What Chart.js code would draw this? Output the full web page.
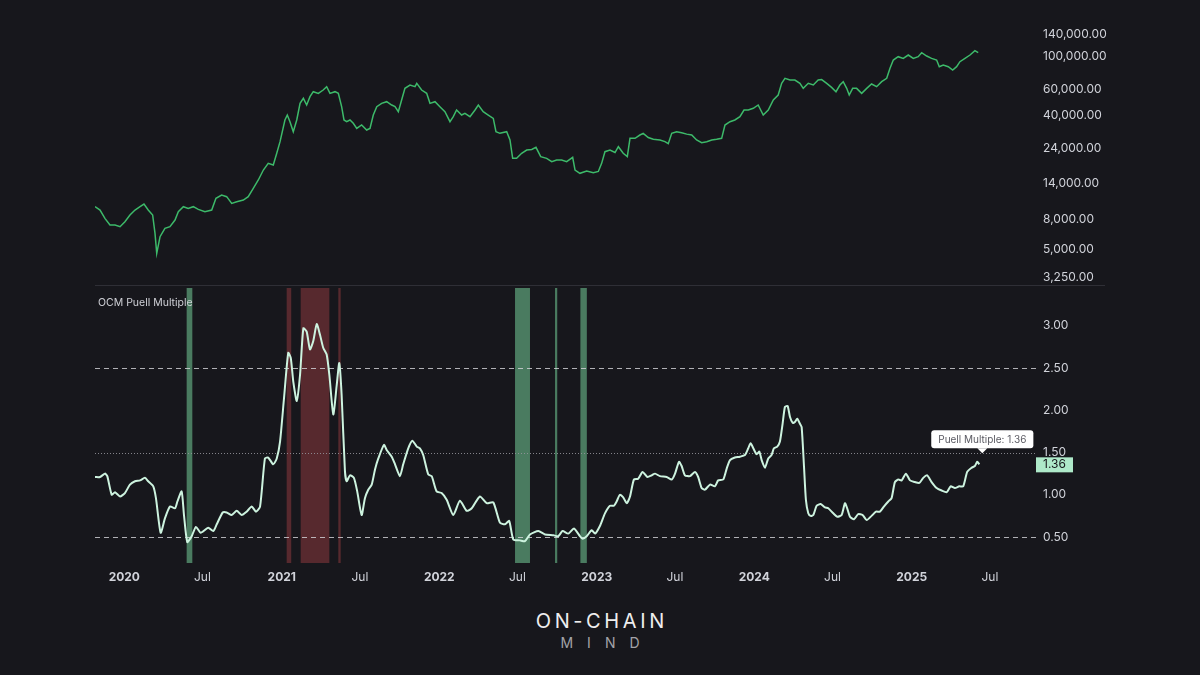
<!DOCTYPE html>
<html>
<head>
<meta charset="utf-8">
<script src="https://cdn.jsdelivr.net/npm/chart.js@4.4.1/dist/chart.umd.min.js"></script>
<style>
html,body{margin:0;padding:0;background:#17171c;}
#wrap{position:relative;width:1200px;height:675px;background:#17171c;overflow:hidden;font-family:Inter,"Noto Sans",sans-serif;}
#cPrice{position:absolute;left:0;top:0;}
#cPuell{position:absolute;left:0;top:287px;}
#lbl{position:absolute;left:98px;top:296px;font-size:10.5px;color:#cfd0d6;white-space:nowrap;}
#wm1{position:absolute;left:0;width:1200px;top:609px;text-align:center;font-size:20px;letter-spacing:3.6px;color:#eeeeee;padding-left:3.6px;box-sizing:border-box;}
#wm2{position:absolute;left:0;width:1200px;top:634px;text-align:center;font-size:14px;letter-spacing:14px;color:#a3a3a8;padding-left:14px;box-sizing:border-box;}
</style>
</head>
<body>
<div id="wrap">
  <canvas id="cPrice" width="1200" height="287"></canvas>
  <canvas id="cPuell" width="1200" height="300"></canvas>
  <div id="lbl">OCM Puell Multiple</div>
  <div id="wm1">ON-CHAIN</div>
  <div id="wm2">MIND</div>
</div>
<script>
// ---------- DATA ----------
const xMin = 2019.814, xMax = 2025.789;
const xTickValues = [2020, 2020.496, 2021, 2021.496, 2022, 2022.496, 2023, 2023.496, 2024, 2024.497, 2025, 2025.496];
const xTickLabels = ['2020','Jul','2021','Jul','2022','Jul','2023','Jul','2024','Jul','2025','Jul'];

const priceTicks = [3250, 5000, 8000, 14000, 24000, 40000, 60000, 100000, 140000];
const puellTicks = [0.5, 1.0, 1.5, 2.0, 2.5, 3.0];
const dashedLevels = [2.5, 0.5];
const dottedLevels = [1.5];

const greenBands = [[2020.396,2020.432],[2022.481,2022.576],[2022.735,2022.749],[2022.896,2022.937]];
const redBands = [[2021.031,2021.060],[2021.120,2021.302],[2021.359,2021.374]];

const priceT = [2019.814,2019.846,2019.877,2019.909,2019.941,2019.973,2020.004,2020.036,2020.068,2020.100,2020.125,2020.152,2020.180,2020.195,2020.206,2020.227,2020.258,2020.290,2020.322,2020.343,2020.375,2020.406,2020.438,2020.470,2020.512,2020.555,2020.582,2020.618,2020.650,2020.682,2020.714,2020.756,2020.787,2020.819,2020.851,2020.883,2020.914,2020.946,2020.968,2020.989,2021.020,2021.035,2021.052,2021.073,2021.095,2021.116,2021.137,2021.158,2021.179,2021.200,2021.232,2021.263,2021.285,2021.306,2021.338,2021.359,2021.380,2021.395,2021.412,2021.433,2021.454,2021.476,2021.507,2021.539,2021.560,2021.581,2021.603,2021.634,2021.666,2021.698,2021.719,2021.740,2021.761,2021.782,2021.814,2021.846,2021.857,2021.888,2021.920,2021.941,2021.973,2022.004,2022.036,2022.068,2022.089,2022.110,2022.142,2022.163,2022.195,2022.227,2022.248,2022.279,2022.311,2022.343,2022.360,2022.385,2022.428,2022.449,2022.466,2022.491,2022.523,2022.555,2022.587,2022.614,2022.644,2022.682,2022.714,2022.745,2022.777,2022.809,2022.847,2022.862,2022.893,2022.936,2022.978,2023.010,2023.031,2023.052,2023.084,2023.116,2023.137,2023.168,2023.194,2023.211,2023.243,2023.274,2023.295,2023.327,2023.359,2023.401,2023.433,2023.454,2023.476,2023.507,2023.539,2023.571,2023.603,2023.634,2023.666,2023.698,2023.730,2023.761,2023.793,2023.814,2023.846,2023.877,2023.909,2023.935,2023.962,2023.994,2024.025,2024.057,2024.089,2024.121,2024.152,2024.174,2024.195,2024.227,2024.258,2024.290,2024.311,2024.343,2024.375,2024.406,2024.428,2024.460,2024.491,2024.519,2024.544,2024.565,2024.587,2024.603,2024.625,2024.650,2024.682,2024.714,2024.745,2024.777,2024.809,2024.841,2024.862,2024.883,2024.914,2024.946,2024.978,2025.010,2025.041,2025.063,2025.095,2025.126,2025.158,2025.175,2025.200,2025.232,2025.260,2025.285,2025.306,2025.338,2025.370,2025.401,2025.422];
const priceV = [9745,9255,8138,7340,7340,7155,7727,8568,9255,9745,10155,9255,8568,6457,4738,6131,6972,7155,7932,9022,9745,9497,9745,9352,9022,9255,11090,11670,11376,10261,10530,10804,11376,12940,14720,17170,19040,18560,22230,26620,37200,40180,36250,31040,37200,48120,51990,46900,53350,57630,56150,59130,62250,56150,57630,56150,45710,37200,36250,37200,35330,32690,34430,31870,32690,40180,45710,48120,49370,46900,45710,42300,50660,60670,63880,62250,65550,59130,56150,48120,49370,45710,42300,36250,39150,43410,40180,41230,39150,43410,46900,42300,40180,38160,31040,30270,31040,27310,20570,20570,22230,23390,23600,24380,21100,20570,19540,20040,20040,19540,20880,17170,16320,16920,16500,16800,19040,22800,23390,22500,24630,22230,21100,28030,28030,29500,30270,28400,27600,27310,26620,25800,30270,31040,30500,29900,29500,27310,26200,26620,27310,27600,28030,34430,36250,37200,39150,43410,43410,44570,46900,40180,43410,50660,54730,65550,70810,69010,69010,65550,60670,65550,63880,69010,69500,65550,61610,57630,63880,67260,60670,54730,60670,60670,56150,60670,64880,62230,67260,70810,82640,94000,98970,96450,101550,96450,98970,105290,100000,96450,94000,84810,87000,84810,80540,84810,91620,96450,101550,108600,105290];

const puellT = [2019.814,2019.846,2019.877,2019.892,2019.920,2019.941,2019.973,2020.004,2020.036,2020.068,2020.100,2020.131,2020.152,2020.184,2020.201,2020.231,2020.258,2020.290,2020.322,2020.337,2020.364,2020.379,2020.400,2020.428,2020.455,2020.485,2020.533,2020.565,2020.587,2020.625,2020.650,2020.682,2020.714,2020.745,2020.777,2020.809,2020.836,2020.862,2020.893,2020.914,2020.946,2020.968,2020.989,2021.014,2021.041,2021.057,2021.073,2021.095,2021.116,2021.137,2021.158,2021.179,2021.200,2021.222,2021.243,2021.263,2021.285,2021.302,2021.327,2021.349,2021.365,2021.380,2021.401,2021.412,2021.433,2021.458,2021.479,2021.507,2021.528,2021.549,2021.571,2021.592,2021.613,2021.649,2021.666,2021.698,2021.719,2021.750,2021.771,2021.803,2021.829,2021.857,2021.877,2021.898,2021.930,2021.952,2021.983,2022.015,2022.047,2022.089,2022.131,2022.174,2022.206,2022.258,2022.301,2022.343,2022.385,2022.417,2022.444,2022.470,2022.512,2022.544,2022.576,2022.629,2022.671,2022.724,2022.756,2022.783,2022.819,2022.855,2022.893,2022.910,2022.936,2022.968,2022.989,2023.020,2023.052,2023.084,2023.109,2023.126,2023.147,2023.168,2023.190,2023.211,2023.236,2023.263,2023.291,2023.321,2023.349,2023.370,2023.401,2023.444,2023.476,2023.497,2023.522,2023.539,2023.560,2023.592,2023.624,2023.644,2023.666,2023.687,2023.719,2023.750,2023.771,2023.803,2023.825,2023.846,2023.877,2023.909,2023.941,2023.962,2023.977,2023.994,2024.015,2024.032,2024.047,2024.068,2024.089,2024.110,2024.125,2024.146,2024.163,2024.180,2024.195,2024.212,2024.227,2024.244,2024.258,2024.273,2024.290,2024.301,2024.316,2024.328,2024.343,2024.358,2024.375,2024.396,2024.422,2024.449,2024.470,2024.502,2024.527,2024.555,2024.576,2024.590,2024.608,2024.633,2024.660,2024.688,2024.714,2024.745,2024.773,2024.798,2024.823,2024.851,2024.872,2024.893,2024.914,2024.936,2024.963,2024.989,2025.020,2025.048,2025.073,2025.098,2025.126,2025.158,2025.190,2025.222,2025.247,2025.274,2025.302,2025.327,2025.352,2025.380,2025.401,2025.416,2025.429];
const puellV = [1.21,1.21,1.25,1.22,1.00,1.03,0.98,1.02,1.12,1.16,1.17,1.20,1.16,1.10,0.96,0.55,0.72,0.86,0.84,0.92,1.04,0.76,0.44,0.51,0.62,0.55,0.61,0.57,0.65,0.79,0.79,0.76,0.81,0.76,0.80,0.86,0.80,0.86,1.43,1.44,1.36,1.43,1.63,2.14,2.68,2.62,2.34,2.11,2.42,2.97,2.93,2.72,2.82,3.02,2.89,2.74,2.66,2.42,1.95,2.30,2.56,2.18,1.28,1.16,1.23,1.20,1.04,0.76,0.96,1.06,1.12,1.30,1.43,1.59,1.53,1.45,1.36,1.22,1.36,1.55,1.64,1.57,1.55,1.47,1.24,1.22,1.04,1.02,0.94,0.76,0.93,0.81,0.84,0.98,0.90,0.91,0.67,0.65,0.69,0.47,0.46,0.45,0.53,0.57,0.53,0.52,0.51,0.57,0.54,0.60,0.51,0.48,0.51,0.58,0.54,0.63,0.78,0.87,0.87,0.92,1.00,0.97,0.90,0.98,1.18,1.19,1.27,1.21,1.23,1.25,1.22,1.21,1.18,1.25,1.39,1.34,1.23,1.22,1.27,1.21,1.08,1.06,1.12,1.10,1.17,1.18,1.31,1.41,1.44,1.45,1.47,1.55,1.61,1.55,1.48,1.51,1.41,1.32,1.43,1.47,1.55,1.57,1.63,1.84,2.04,2.05,1.92,1.85,1.86,1.90,1.84,1.80,1.33,0.94,0.78,0.75,0.76,0.87,0.89,0.85,0.84,0.78,0.74,0.76,0.90,0.84,0.74,0.71,0.77,0.76,0.70,0.75,0.80,0.80,0.86,0.92,0.96,1.15,1.18,1.17,1.25,1.17,1.15,1.14,1.20,1.23,1.15,1.08,1.05,1.03,1.10,1.08,1.10,1.10,1.27,1.32,1.34,1.39,1.36];

// ---------- STYLE ----------
const TXT = '#d1d3da';
const FONT = 'Inter';
const PRICE_TOP = 237600, PRICE_BOTTOM = 2817;
const PUELL_TOP = 3.4586, PUELL_BOTTOM = 0.1923;

const fmtPrice = v => Number(v).toLocaleString('en-US',{minimumFractionDigits:2, maximumFractionDigits:2});
const fitY = s => { s.width = 164; s.paddingTop = 0; s.paddingBottom = 0; };
const fitX = s => { s.height = 24; s.paddingLeft = 0; s.paddingRight = 0; };

// ---------- PRICE CHART ----------
const sepPlugin = {
  id:'sep',
  afterDraw(chart){
    const c = chart.ctx;
    c.save();
    c.strokeStyle = '#2f2f36';
    c.lineWidth = 1;
    c.beginPath();
    c.moveTo(chart.chartArea.left, 285.5);
    c.lineTo(1105, 285.5);
    c.stroke();
    c.restore();
  }
};

new Chart(document.getElementById('cPrice'), {
  type:'line',
  data:{datasets:[{
    data: priceT.map((t,i)=>({x:t, y:priceV[i]})),
    borderColor:'#3dba6a',
    borderWidth:1.5,
    pointRadius:0,
    tension:0
  }]},
  options:{
    responsive:false, animation:false,
    layout:{padding:{left:95,right:0,top:0,bottom:0}},
    plugins:{legend:{display:false}, tooltip:{enabled:false}},
    scales:{
      x:{type:'linear', min:xMin, max:xMax, display:false},
      y:{
        type:'logarithmic', position:'right', min:PRICE_BOTTOM, max:PRICE_TOP,
        grid:{display:false, drawTicks:false}, border:{display:false},
        afterBuildTicks: s => { s.ticks = priceTicks.map(v=>({value:v})); },
        afterFit: fitY,
        ticks:{color:TXT, font:{family:FONT, size:12}, padding:7, callback: v => fmtPrice(v)}
      }
    }
  },
  plugins:[sepPlugin]
});

// ---------- PUELL CHART ----------
const decoPlugin = {
  id:'deco',
  beforeDatasetsDraw(chart){
    const c = chart.ctx, a = chart.chartArea, x = chart.scales.x, y = chart.scales.y;
    c.save();
    c.beginPath(); c.rect(a.left, a.top, a.right-a.left, a.bottom-a.top); c.clip();
    const band = (arr, col) => arr.forEach(b => {
      const x0 = x.getPixelForValue(b[0]), x1 = x.getPixelForValue(b[1]);
      c.fillStyle = col;
      c.fillRect(x0, a.top+1, Math.max(1.5, x1-x0), a.bottom-a.top-1);
    });
    band(greenBands, '#4a7b60');
    band(redBands, '#57292e');
    c.lineWidth = 1;
    c.strokeStyle = 'rgba(215,215,220,0.8)';
    c.setLineDash([5,4]);
    dashedLevels.forEach(v => {
      const py = Math.round(y.getPixelForValue(v)) + 0.5;
      c.beginPath(); c.moveTo(a.left, py); c.lineTo(a.right, py); c.stroke();
    });
    c.strokeStyle = 'rgba(150,150,158,0.85)';
    c.setLineDash([1,2]);
    dottedLevels.forEach(v => {
      const py = Math.round(y.getPixelForValue(v)) + 0.5;
      c.beginPath(); c.moveTo(a.left, py); c.lineTo(a.right, py); c.stroke();
    });
    c.restore();
  },
  afterDatasetsDraw(chart){
    const c = chart.ctx, a = chart.chartArea;
    const meta = chart.getDatasetMeta(0);
    const pt = meta.data[meta.data.length-1];
    const last = puellV[puellV.length-1];
    c.save();
    const text = 'Puell Multiple: ' + last.toFixed(2);
    c.font = '10px ' + FONT;
    const w = c.measureText(text).width + 14, h = 18;
    const cx = pt.x + 3;
    const bx = cx - w/2, by = pt.y - 16 - h;
    c.fillStyle = '#ffffff';
    c.beginPath();
    if (c.roundRect) c.roundRect(bx, by, w, h, 3); else c.rect(bx, by, w, h);
    c.fill();
    c.beginPath();
    c.moveTo(cx-5, by+h); c.lineTo(cx+5, by+h); c.lineTo(cx, by+h+5); c.closePath(); c.fill();
    c.fillStyle = '#5a5a62';
    c.textAlign = 'center'; c.textBaseline = 'middle';
    c.fillText(text, cx, by + h/2 + 0.5);
    c.fillStyle = '#aee9c9';
    c.fillRect(a.right, pt.y - 7, 37, 15);
    c.fillStyle = '#16161a';
    c.font = '12px ' + FONT;
    c.fillText(last.toFixed(2), a.right + 18.5, pt.y + 0.5);
    c.restore();
  }
};

new Chart(document.getElementById('cPuell'), {
  type:'line',
  data:{datasets:[{
    data: puellT.map((t,i)=>({x:t, y:puellV[i]})),
    borderColor:'#cdf3df',
    borderWidth:2,
    pointRadius:0,
    tension:0.2
  }]},
  options:{
    responsive:false, animation:false,
    layout:{padding:{left:95,right:0,top:0,bottom:0}},
    plugins:{legend:{display:false}, tooltip:{enabled:false}},
    scales:{
      x:{
        type:'linear', min:xMin, max:xMax, position:'bottom',
        grid:{display:false, drawTicks:false}, border:{display:false},
        afterBuildTicks: s => { s.ticks = xTickValues.map(v=>({value:v})); },
        afterFit: fitX,
        ticks:{
          color:TXT, padding:7, maxRotation:0, autoSkip:false,
          font: ctx => ({family:FONT, size:12, weight: xTickLabels[ctx.index] === 'Jul' ? 'normal' : 'bold'}),
          callback: (v, i) => xTickLabels[i]
        }
      },
      y:{
        type:'linear', position:'right', min:PUELL_BOTTOM, max:PUELL_TOP,
        grid:{display:false, drawTicks:false}, border:{display:false},
        afterBuildTicks: s => { s.ticks = puellTicks.map(v=>({value:v})); },
        afterFit: fitY,
        ticks:{color:TXT, font:{family:FONT, size:12}, padding:7, callback: v => Number(v).toFixed(2)}
      }
    }
  },
  plugins:[decoPlugin]
});
</script>
</body>
</html>
